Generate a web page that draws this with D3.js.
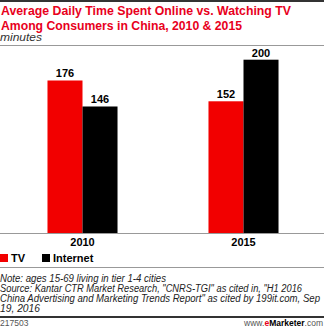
<!DOCTYPE html>
<html><head><meta charset="utf-8">
<script src="https://cdn.jsdelivr.net/npm/d3@7"></script>
<style>body{margin:0;background:#fff}svg{display:block}text{font-family:"Liberation Sans",Arial,sans-serif}</style>
</head><body><svg id="c" width="324" height="328"></svg>
<script>
const years = ["2010", "2015"];
const series = ["TV", "Internet"];
const tvValues = [176, 152];
const internetValues = [146, 200];
const colors = ["#f20000", "#000000"];
const titleLines = ["Average Daily Time Spent Online vs. Watching TV", "Among Consumers in China, 2010 & 2015"];
const subtitle = "minutes";
const notes = ["Note: ages 15-69 living in tier 1-4 cities",
  "Source: Kantar CTR Market Research, \"CNRS-TGI\" as cited in, \"H1 2016",
  "China Advertising and Marketing Trends Report\" as cited by 199it.com, Sep",
  "19, 2016"];

const svg = d3.select("#c");
const W = 324;
svg.append("rect").attr("x",0).attr("y",0).attr("width",W).attr("height",2).attr("fill","#333");
const tl = [290, 241];
titleLines.forEach((t,i)=>{
  svg.append("text").attr("x",1).attr("y",15+i*15).attr("fill","#e8001c").attr("font-weight","bold")
    .attr("font-size",12.5).attr("textLength",tl[i]).attr("lengthAdjust","spacingAndGlyphs").text(t);
});
svg.append("text").attr("x",0).attr("y",41).attr("font-style","italic").attr("font-size",10.5).attr("fill","#333")
  .attr("textLength",42).attr("lengthAdjust","spacingAndGlyphs").text(subtitle);
svg.append("rect").attr("x",0).attr("y",45).attr("width",W).attr("height",1).attr("fill","#999");

const data = years.map((y,i)=>({year:y, vals:[tvValues[i], internetValues[i]]}));
const x0 = d3.scaleBand().domain(years).range([2,324]).paddingInner(0.565).paddingOuter(0.2825);
const x1 = d3.scaleBand().domain(series).range([0, x0.bandwidth()]);
const y = d3.scaleLinear().domain([0,200]).range([233, 59.7]);

const g = svg.selectAll("g.grp").data(data).join("g").attr("transform", d=>`translate(${x0(d.year)},0)`);
g.selectAll("rect").data(d=>d.vals.map((v,i)=>({s:series[i], v, i}))).join("rect")
  .attr("x", d=>x1(d.s)).attr("width", x1.bandwidth())
  .attr("y", d=>y(d.v)).attr("height", d=>y(0)-y(d.v)).attr("fill", d=>colors[d.i]);
g.selectAll("text").data(d=>d.vals.map((v,i)=>({s:series[i], v, i}))).join("text")
  .attr("x", d=>x1(d.s)+x1.bandwidth()/2).attr("y", d=>y(d.v)-3).attr("text-anchor","middle")
  .attr("font-weight","bold").attr("font-size",11).attr("fill","#000").text(d=>d.v);

const axis = svg.append("g").attr("transform","translate(0,233)")
  .call(d3.axisBottom(x0).tickSize(0).tickPadding(5));
axis.select(".domain").attr("d","M0,0.5H324").attr("stroke","#999");
axis.selectAll("text").attr("font-weight","bold").attr("font-size",11).attr("fill","#000")
  .attr("font-family","Liberation Sans, Arial, sans-serif");

const legX = [0, 42];
series.forEach((s,i)=>{
  svg.append("rect").attr("x",legX[i]).attr("y",254).attr("width",8).attr("height",8).attr("fill",colors[i]);
  svg.append("text").attr("x",legX[i]+11).attr("y",262).attr("font-weight","bold").attr("font-size",11).text(s);
});
svg.append("rect").attr("x",0).attr("y",267).attr("width",W).attr("height",1).attr("fill","#999");
const nl = [166, 302, 320, 40];
notes.forEach((t,i)=>{
  svg.append("text").attr("x",0).attr("y",282+i*10).attr("font-style","italic").attr("font-size",10).attr("fill","#222")
    .attr("textLength",nl[i]).attr("lengthAdjust","spacingAndGlyphs").text(t);
});
svg.append("rect").attr("x",0).attr("y",316).attr("width",W).attr("height",2).attr("fill","#333");
svg.append("text").attr("x",0).attr("y",326).attr("font-size",8.5).attr("fill","#555").text("217503");
const ft = svg.append("text").attr("x",323).attr("y",326).attr("font-size",8.5).attr("text-anchor","end").attr("fill","#555");
ft.append("tspan").text("www.");
ft.append("tspan").attr("fill","#e8001c").attr("font-weight","bold").text("e");
ft.append("tspan").attr("fill","#000").attr("font-weight","bold").text("Marketer");
ft.append("tspan").text(".com");
</script></body></html>
